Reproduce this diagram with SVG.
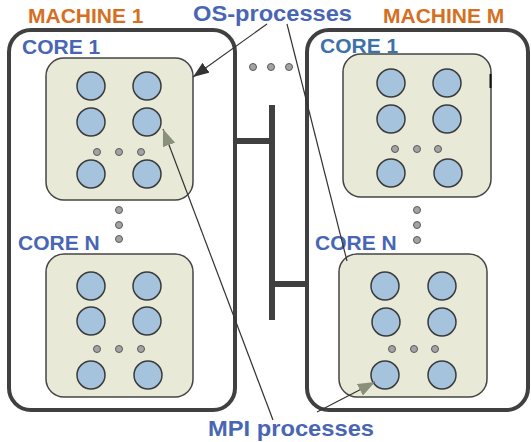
<svg xmlns="http://www.w3.org/2000/svg" width="531" height="442" viewBox="0 0 531 442">
<defs>
<style>
.lbl{font-family:"Liberation Sans",Arial,sans-serif;font-weight:bold;font-size:21px}
.mach{fill:#D4701F}
.blue{fill:#4866B4}
.teal{fill:#3C72AA}
.mbox{fill:#fff;stroke:#404040;stroke-width:4}
.core{fill:#E8EAD7;stroke:#454545;stroke-width:1.5}
.p{fill:#A5C3DD;stroke:#3A3A3A;stroke-width:1.5}
.d{fill:#A3A3A3;stroke:#5A5A5A;stroke-width:1}
.bus{stroke:#404040;stroke-width:6;fill:none}
.thin{stroke:#333;stroke-width:1.2;fill:none}
</style>
<marker id="ab" viewBox="0 0 16 12" refX="16" refY="6" markerWidth="16" markerHeight="12" markerUnits="userSpaceOnUse" orient="auto">
<path d="M0,0 L16,6 L0,12 z" fill="#333"/>
</marker>
<marker id="ag" viewBox="0 0 17 13" refX="17" refY="6.5" markerWidth="17" markerHeight="13" markerUnits="userSpaceOnUse" orient="auto">
<path d="M0,0 L17,6.5 L0,13 z" fill="#8B907A"/>
</marker>
</defs>

<g id="machine1">
<rect class="mbox" x="9" y="30" width="226" height="380" rx="22"/>
<text class="lbl mach" x="28" y="23">MACHINE 1</text>
</g>
<g id="machineM">
<rect class="mbox" x="307" y="30" width="221" height="380" rx="22"/>
<text class="lbl mach" x="383" y="23">MACHINE M</text>
</g>

<g id="m1core1">
<text class="lbl blue" x="22" y="54">CORE 1</text>
<rect class="core" x="46" y="58" width="147" height="142" rx="18"/>
<circle class="p" cx="91" cy="86" r="14"/><circle class="p" cx="147" cy="86" r="14"/>
<circle class="p" cx="91" cy="122" r="14"/><circle class="p" cx="147" cy="122" r="14"/>
<circle class="d" cx="97" cy="152" r="3.5"/><circle class="d" cx="119" cy="152" r="3.5"/><circle class="d" cx="141" cy="152" r="3.5"/>
<circle class="p" cx="91" cy="174" r="14"/><circle class="p" cx="147" cy="174" r="14"/>
</g>
<g id="m1dots">
<circle class="d" cx="119" cy="210" r="3.5"/><circle class="d" cx="119" cy="225" r="3.5"/><circle class="d" cx="119" cy="239" r="3.5"/>
</g>
<g id="m1coreN">
<text class="lbl blue" x="18" y="250">CORE N</text>
<rect class="core" x="46" y="254" width="147" height="143" rx="18"/>
<circle class="p" cx="91" cy="286" r="14"/><circle class="p" cx="147" cy="286" r="14"/>
<circle class="p" cx="91" cy="321" r="14"/><circle class="p" cx="147" cy="321" r="14"/>
<circle class="d" cx="97" cy="349" r="3.5"/><circle class="d" cx="119" cy="349" r="3.5"/><circle class="d" cx="141" cy="349" r="3.5"/>
<circle class="p" cx="91" cy="375" r="14"/><circle class="p" cx="148" cy="375" r="14"/>
</g>

<g id="mMcore1">
<text class="lbl teal" x="320" y="53">CORE 1</text>
<rect class="core" x="343" y="54" width="148" height="143" rx="18"/>
<line x1="490.5" y1="74" x2="490.5" y2="88" stroke="#111" stroke-width="2"/>
<circle class="p" cx="391" cy="83" r="14"/><circle class="p" cx="447" cy="83" r="14"/>
<circle class="p" cx="391" cy="119" r="14"/><circle class="p" cx="447" cy="119" r="14"/>
<circle class="d" cx="395" cy="149" r="3.5"/><circle class="d" cx="417" cy="149" r="3.5"/><circle class="d" cx="438" cy="149" r="3.5"/>
<circle class="p" cx="391" cy="173" r="14"/><circle class="p" cx="448" cy="173" r="14"/>
</g>
<g id="mMdots">
<circle class="d" cx="417" cy="210" r="3.5"/><circle class="d" cx="417" cy="225" r="3.5"/><circle class="d" cx="417" cy="240" r="3.5"/>
</g>
<g id="mMcoreN">
<text class="lbl blue" x="315" y="250">CORE N</text>
<rect class="core" x="339" y="254" width="148" height="143" rx="18"/>
<circle class="p" cx="385" cy="286" r="14"/><circle class="p" cx="442" cy="286" r="14"/>
<circle class="p" cx="386" cy="322" r="14"/><circle class="p" cx="442" cy="322" r="14"/>
<circle class="d" cx="392" cy="349" r="3.5"/><circle class="d" cx="414" cy="349" r="3.5"/><circle class="d" cx="435" cy="349" r="3.5"/>
<circle class="p" cx="385" cy="375" r="14"/><circle class="p" cx="442" cy="375" r="14"/>
</g>

<g id="between-dots">
<circle class="d" cx="253" cy="67" r="3.5"/><circle class="d" cx="271" cy="67" r="3.5"/><circle class="d" cx="289" cy="67" r="3.5"/>
</g>

<g id="network">
<line class="bus" x1="272" y1="105" x2="272" y2="320"/>
<line class="bus" x1="235" y1="141" x2="272" y2="141"/>
<line class="bus" x1="272" y1="284" x2="309" y2="284"/>
</g>

<g id="labels">
<text class="lbl blue" x="193" y="21" font-size="22" textLength="159" lengthAdjust="spacingAndGlyphs" style="font-size:22px">OS-processes</text>
<text class="lbl blue" x="208" y="436" textLength="166" lengthAdjust="spacingAndGlyphs" style="font-size:22px">MPI processes</text>
</g>

<g id="connectors">
<line class="thin" x1="267" y1="24" x2="193" y2="77" marker-end="url(#ab)"/>
<line class="thin" x1="287" y1="24" x2="347" y2="261"/>
<line class="thin" x1="273" y1="420" x2="163" y2="129" marker-end="url(#ag)"/>
<line class="thin" x1="317" y1="412" x2="375" y2="382" marker-end="url(#ag)"/>
</g>
</svg>
